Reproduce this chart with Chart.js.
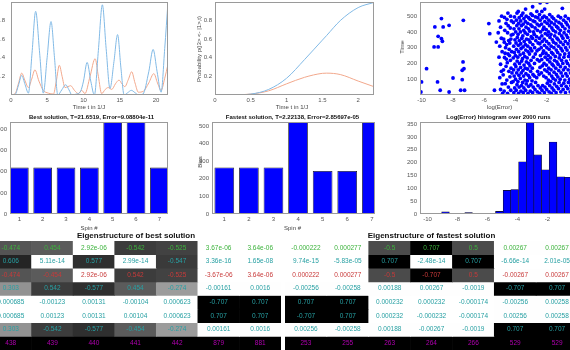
<!DOCTYPE html>
<html>
<head>
<meta charset="utf-8">
<script src="https://cdn.jsdelivr.net/npm/chart.js@4.4.1/dist/chart.umd.min.js"></script>
<style>
body{margin:0;width:570px;height:350px;overflow:hidden;background:#fff;position:relative;font-family:"Liberation Sans",Arial,sans-serif}
canvas{position:absolute}
.lb{position:absolute;white-space:nowrap;color:#444;font-size:6px;transform:translate(-50%,-50%)}
.tt{font-weight:bold;color:#111}
.big{font-size:8px}
.rot{transform:translate(-50%,-50%) rotate(-90deg)}
</style>
</head>
<body>
<script>
// top left: probabilities over the best run
var bestBlueT = [0,0.6,1.05,1.47,1.95,2.4,2.9,3.4,3.95,4.46,4.98,5.52,6.0,6.45,7.0,7.54,8.0,8.4,9.0,9.6,10.0,10.5,11.0,11.5,12.05,12.6,13.12,13.65,14.2,14.7,15.15,15.6,16.1,16.6,17.1,17.6,18.2,19.0,19.6,20.15,20.7,21.2,21.65];
var bestBlueP = [0,0.01,0.11,0.21,0.11,0.02,0.45,0.9,0.45,0.02,0.4,0.79,0.4,0,0.055,0.11,0.055,0,0.01,0.04,0.15,0.35,0.15,0,0.48,0.97,0.5,0.07,0.36,0.65,0.3,0,0.025,0.05,0.025,0,0.01,0.25,0.49,0.25,0.03,0.5,1.0];
var bestOrangeT = [0,0.6,1.05,1.47,1.95,2.4,2.85,3.3,3.85,4.46,5.15,5.85,6.25,6.67,7.05,7.45,7.85,8.23,8.75,9.3,9.75,10.2,10.9,11.6,12.05,12.5,13.0,13.4,13.9,14.4,14.9,15.3,15.7,16.2,16.64,17.1,17.56,18.25,19.0,19.7,20.2,20.7,21.2,21.65];
var bestOrangeP = [0,0.02,0.13,0.235,0.15,0.08,0.17,0.27,0.15,0.05,0.02,0.01,0.15,0.32,0.2,0.08,0.09,0.1,0.05,0.015,0.05,0.015,0.2,0.39,0.2,0.015,0.06,0.08,0.06,0.12,0.16,0.12,0.09,0.17,0.25,0.13,0.03,0.04,0.13,0.23,0.13,0.05,0.18,0.33];

// top middle: probabilities over the fastest run
var fastT = [0,0.25,0.5,0.75,1.0,1.25,1.5,1.56,1.75,2.0,2.22];
var fastBlueP = [0,0.001,0.01,0.06,0.18,0.38,0.59,0.64,0.8,0.94,0.995];
var fastOrangeP = [0,0.001,0.01,0.045,0.12,0.19,0.233,0.235,0.22,0.15,0.09];

// top right: time vs log(error) for every run
var errTime = [
[-8.73,485],[-9.15,432],[-8.62,432],[-8.24,442],[-7.33,474],[-8.94,372],[-8.73,358],[-8.67,341],[-9.2,305],[-8.94,305],
[-9.68,167],[-7.35,210],[-7.29,167],[-7.4,157],[-8.98,83],[-7.99,108],[-7.4,97],[-10,83],[-8.81,30],[-8.24,19],
[-7.5,30],[-7.25,30],[-10.04,19],[-5.7,453],[-5.64,389],[-5.22,336],[-5.34,30],
[-5.05,470],[-4.95,430],[-5.1,395],[-4.9,360],[-5.0,310],[-4.85,275],[-5.05,240],[-4.95,195],[-4.9,150],[-5.0,110],[-4.85,70],[-4.95,35],[-4.82,10],[-4.88,500],
[-4.72,25],[-4.65,72],[-4.78,128],[-4.6,182],[-4.7,238],[-4.63,300],[-4.75,355],[-4.68,410],[-4.6,455],[-4.7,492],[-4.76,160],[-4.66,265],[-4.71,335],
[-4.5,10],[-4.45,50],[-4.55,95],[-4.42,150],[-4.52,205],[-4.47,260],[-4.56,320],[-4.43,345],[-4.5,395],[-4.46,440],[-4.54,480],[-4.48,520],[-4.58,228],[-4.4,290],
[-4.3,30],[-4.25,80],[-4.35,115],[-4.28,170],[-4.32,220],[-4.24,275],[-4.36,330],[-4.27,380],[-4.33,425],[-4.26,470],[-4.31,500],[-4.22,140],[-4.38,250],[-4.29,355],
[-4.1,15],[-4.05,45],[-4.15,85],[-4.08,120],[-4.12,160],[-4.04,195],[-4.14,235],[-4.07,270],[-4.11,310],[-4.03,350],[-4.16,385],[-4.09,420],[-4.13,460],[-4.06,495],
[-3.95,30],[-3.9,65],[-3.99,100],[-3.92,140],[-3.97,180],[-3.89,215],[-4.0,250],[-3.93,290],[-3.96,330],[-3.88,365],[-3.98,400],[-3.91,440],[-3.94,475],[-3.9,520],
[-3.8,10],[-3.76,50],[-3.84,85],[-3.78,125],[-3.82,160],[-3.74,200],[-3.85,240],[-3.79,275],[-3.81,315],[-3.75,345],[-3.83,385],[-3.77,420],[-3.8,455],[-3.76,490],[-3.82,530],
[-3.65,25],[-3.61,60],[-3.69,105],[-3.63,140],[-3.67,175],[-3.6,215],[-3.7,255],[-3.64,295],[-3.66,325],[-3.59,360],[-3.68,400],[-3.62,440],[-3.66,470],[-3.61,505],
[-3.5,15],[-3.46,45],[-3.54,80],[-3.48,120],[-3.52,155],[-3.45,190],[-3.55,230],[-3.49,265],[-3.51,305],[-3.44,340],[-3.53,375],[-3.47,410],[-3.5,450],[-3.46,485],[-3.52,520],
[-3.35,30],[-3.31,70],[-3.39,95],[-3.33,135],[-3.37,170],[-3.3,210],[-3.4,245],[-3.34,285],[-3.36,320],[-3.29,355],[-3.38,395],[-3.32,430],[-3.36,465],[-3.31,500],[-3.35,545],
[-3.2,10],[-3.16,55],[-3.24,90],[-3.18,125],[-3.22,165],[-3.15,200],[-3.25,235],[-3.19,275],[-3.21,310],[-3.14,350],[-3.23,385],[-3.17,420],[-3.21,455],[-3.16,490],
[-3.05,25],[-3.01,65],[-3.09,110],[-3.03,150],[-3.07,185],[-3.0,220],[-3.1,260],[-3.04,295],[-3.06,335],[-2.99,370],[-3.08,405],[-3.02,445],[-3.06,480],[-3.01,515],
[-2.9,15],[-2.86,50],[-2.94,90],[-2.88,130],[-2.92,170],[-2.85,240],[-2.95,280],[-2.89,320],[-2.91,360],[-2.84,400],[-2.93,435],[-2.87,470],[-2.91,505],[-2.9,560],
[-2.75,35],[-2.71,80],[-2.79,120],[-2.73,260],[-2.77,300],[-2.7,345],[-2.8,385],[-2.74,425],[-2.76,465],[-2.72,495],[-2.78,200],
[-2.6,20],[-2.56,60],[-2.64,110],[-2.58,150],[-2.62,280],[-2.55,330],[-2.65,370],[-2.59,410],[-2.61,450],[-2.57,490],[-2.63,530],[-2.6,225],
[-2.45,10],[-2.41,45],[-2.49,130],[-2.43,175],[-2.47,215],[-2.4,250],[-2.5,290],[-2.44,325],[-2.46,360],[-2.39,400],[-2.48,440],[-2.42,475],[-2.46,510],[-2.42,585],
[-2.3,30],[-2.26,60],[-2.34,140],[-2.28,185],[-2.32,225],[-2.25,265],[-2.35,300],[-2.29,340],[-2.31,375],[-2.24,415],[-2.33,450],[-2.27,490],[-2.31,530],
[-2.15,15],[-2.11,50],[-2.19,120],[-2.13,160],[-2.17,200],[-2.1,240],[-2.2,280],[-2.14,315],[-2.16,355],[-2.09,390],[-2.18,430],[-2.12,465],[-2.16,500],[-2.13,545],
[-2.0,35],[-1.96,75],[-2.04,110],[-1.98,150],[-2.02,190],[-1.95,225],[-2.05,265],[-1.99,300],[-2.01,340],[-1.94,380],[-2.03,415],[-1.97,455],[-2.01,490],[-1.98,588],
[-1.85,20],[-1.81,60],[-1.89,95],[-1.83,135],[-1.87,170],[-1.8,210],[-1.9,250],[-1.84,290],[-1.86,325],[-1.79,365],[-1.88,400],[-1.82,440],[-1.86,475],[-1.81,510],
[-1.7,10],[-1.66,45],[-1.74,85],[-1.68,120],[-1.72,160],[-1.65,195],[-1.75,235],[-1.69,270],[-1.71,310],[-1.64,350],[-1.73,385],[-1.67,425],[-1.71,460],[-1.66,495],
[-1.55,30],[-1.51,70],[-1.59,105],[-1.53,145],[-1.57,185],[-1.5,220],[-1.6,260],[-1.54,300],[-1.56,335],[-1.49,375],[-1.58,410],[-1.52,450],[-1.56,485],
[-1.4,15],[-1.36,55],[-1.44,95],[-1.38,130],[-1.42,170],[-1.35,210],[-1.45,245],[-1.39,285],[-1.41,325],[-1.34,360],[-1.43,400],[-1.37,435],[-1.41,470],
[-1.25,40],[-1.21,80],[-1.29,115],[-1.23,155],[-1.27,195],[-1.2,235],[-1.3,270],[-1.24,310],[-1.26,350],[-1.19,390],[-1.28,425],[-1.22,460],[-1.26,500],
[-1.1,20],[-1.06,60],[-1.14,100],[-1.08,140],[-1.12,180],[-1.05,220],[-1.15,255],[-1.09,295],[-1.11,335],[-1.04,375],[-1.13,410],[-1.07,450],[-1.11,490],[-1.0,550],
[-0.95,35],[-0.91,75],[-0.99,120],[-0.93,160],[-0.97,200],[-0.9,240],[-1.0,280],[-0.94,320],[-0.96,360],[-0.89,395],[-0.98,435],[-0.92,475],
[-0.8,15],[-0.76,55],[-0.84,95],[-0.78,135],[-0.82,175],[-0.75,215],[-0.85,260],[-0.79,300],[-0.81,340],[-0.74,380],[-0.83,420],[-0.77,460],[-0.81,500],
[-0.65,40],[-0.61,80],[-0.69,120],[-0.63,160],[-0.67,200],[-0.6,245],[-0.7,285],[-0.64,325],[-0.66,365],[-0.59,405],[-0.68,445],[-0.62,485],
[-0.5,20],[-0.46,60],[-0.54,100],[-0.48,140],[-0.52,185],[-0.45,225],[-0.55,265],[-0.49,305],[-0.51,345],[-0.44,390],[-0.53,430],[-0.47,470]
];

// middle row
var spins = [1,2,3,4,5,6,7];
var bestBias = [440,440,440,440,880,880,440];
var fastBias = [265,265,265,530,245,245,530];
var histCenters = [-9.82,-9.31,-8.80,-8.28,-7.77,-7.26,-6.75,-6.24,-5.72,-5.21,-4.70,-4.19,-3.67,-3.16,-2.65,-2.14,-1.63,-1.11,-0.60,-0.09];
var histCounts = [2,2,8,2,2,6,0,0,1,10,92,95,203,362,230,172,280,145,143,120];

// tick labels
var p1XTicks = [0,5,10,15,20];
var p2XTicks = [0,0.5,1,1.5,2];
var probYTicks = [0.2,0.4,0.6,0.8];
var p3XTicks = [-10,-8,-6,-4,-2];
var p3YTicks = [100,200,300,400,500];
var bestYTicks = [0,200,400,600,800];
var fastYTicks = [0,100,200,300,400,500];
var histYTicks = [0,50,100,150,200,250,300,350];

// eigenvectors (rows) and eigenvalues (last row)
var bestVecs = [
  [-0.474,0.454,2.92e-06,-0.542,-0.525,3.67e-06,3.64e-06],
  [0.606,5.11e-14,0.577,2.99e-14,-0.547,3.36e-16,1.65e-08],
  [-0.474,-0.454,2.92e-06,0.542,-0.525,-3.67e-06,3.64e-06],
  [0.303,0.542,-0.577,0.454,-0.274,-0.00161,0.0016],
  [0.000685,-0.00123,0.00131,-0.00104,0.000623,-0.707,0.707],
  [0.000685,0.00123,0.00131,0.00104,0.000623,0.707,0.707],
  [0.303,-0.542,-0.577,-0.454,-0.274,0.00161,0.0016]
];
var bestEig = [438,439,440,441,442,879,881];
var fastVecs = [
  [-0.000222,0.000277,-0.5,0.707,0.5,0.00267,0.00267],
  [9.74e-15,-5.83e-05,0.707,-2.48e-14,0.707,-6.66e-14,2.01e-05],
  [0.000222,0.000277,-0.5,-0.707,0.5,-0.00267,0.00267],
  [-0.00256,-0.00258,0.00188,0.00267,-0.0019,-0.707,0.707],
  [0.707,0.707,0.000232,0.000232,-0.000174,-0.00256,0.00258],
  [-0.707,0.707,0.000232,-0.000232,-0.000174,0.00256,0.00258],
  [0.00256,-0.00258,0.00188,-0.00267,-0.0019,0.707,0.707]
];
var fastEig = [253,255,263,264,266,529,529];

var rowColors = ['#3cb33c','#27a0a3','#c83a3a','#27a0a3','#27a0a3','#27a0a3','#27a0a3','#b000b0'];

var tickFont = {family:'Liberation Sans', size:6};

var frame = {
  id:'frame',
  afterDraw: function(c) {
    var a = c.chartArea, x = c.ctx;
    x.save();
    x.strokeStyle = '#9a9a9a';
    x.lineWidth = 1;
    x.strokeRect(Math.round(a.left)+0.5, Math.round(a.top)+0.5, Math.round(a.right-a.left)-1, Math.round(a.bottom-a.top)-1);
    x.restore();
  }
};

function axis(min, max, ticks, isX, pad) {
  return {
    type:'linear', min:min, max:max, offset:false,
    grid:{display:false, drawTicks:false}, border:{display:false},
    ticks:{color:'#555', font:tickFont, padding:pad, maxRotation:0, autoSkip:false, callback:function(v){return String(v);}},
    afterBuildTicks: function(s){ s.ticks = ticks.map(function(v){return {value:v};}); },
    afterFit: function(s){
      if (isX) s.height = 14; else s.width = 30;
      s.paddingTop = 0; s.paddingBottom = 0; s.paddingLeft = 0; s.paddingRight = 0;
    }
  };
}

function canvasAt(l, t, w, h) {
  var c = document.createElement('canvas');
  c.width = w; c.height = h;
  c.style.left = l+'px'; c.style.top = t+'px';
  c.style.width = w+'px'; c.style.height = h+'px';
  document.body.appendChild(c);
  return c;
}

// area = [left, top, right, bottom] of the plot box on the page
function plot(area, type, datasets, xAxis, yAxis) {
  var w = area[2]-area[0]+32, h = area[3]-area[1]+16;
  var c = canvasAt(area[0]-30, area[1]-2, w, h);
  return new Chart(c.getContext('2d'), {
    type: type,
    data: {datasets: datasets},
    options: {
      responsive:false, animation:false,
      layout:{autoPadding:false, padding:{top:2, right:2, left:0, bottom:0}},
      plugins:{legend:{display:false}, tooltip:{enabled:false}},
      scales:{x:xAxis, y:yAxis}
    },
    plugins:[frame]
  });
}

function pts(xs, ys) { return xs.map(function(x,i){ return {x:x, y:ys[i]}; }); }

function line(xs, ys, color) {
  return {data:pts(xs, ys), borderColor:color, borderWidth:1, pointRadius:0, fill:false, cubicInterpolationMode:'monotone'};
}

var blue = '#82bae6', orange = '#f2a88c';

plot([11,2,168,95], 'line',
  [line(bestBlueT, bestBlueP, blue), line(bestOrangeT, bestOrangeP, orange)],
  axis(0, 21.6519, p1XTicks, true, 2), axis(0, 1, probYTicks, false, 6));

plot([215,2,374,95], 'line',
  [line(fastT, fastBlueP, blue), line(fastT, fastOrangeP, orange)],
  axis(0, 2.22138, p2XTicks, true, 2), axis(0, 1, probYTicks, false, 3));

plot([420,2,578,95], 'scatter',
  [{data:errTime.map(function(p){return {x:p[0], y:p[1]};}), backgroundColor:'#0000ff', borderWidth:0, pointRadius:1.9}],
  axis(-10.1, 0, p3XTicks, true, 2), axis(0, 590, p3YTicks, false, 3));

function bars(vals) {
  return {data:pts(spins, vals), backgroundColor:'#0000ff', borderColor:'#1a1a1a', borderWidth:0.8, barPercentage:0.8, categoryPercentage:1};
}

plot([10,122,168,214], 'bar', [bars(bestBias)],
  axis(0.6, 7.37, spins, true, 2), axis(0, 872, bestYTicks, false, 3));

plot([212,122,375,214], 'bar', [bars(fastBias)],
  axis(0.5, 7.13, spins, true, 2), axis(0, 523, fastYTicks, false, 3));

plot([420,122,585,214], 'bar',
  [{data:pts(histCenters, histCounts), backgroundColor:'#0000ff', borderColor:'#111', borderWidth:0.6, barPercentage:1, categoryPercentage:1}],
  axis(-10.5, 0.5, p3XTicks, true, 2), axis(0, 358, histYTicks, false, 3));

// eigenstructure tables
function g3(v) {
  if (v === 0) return '0';
  var e = Math.floor(Math.log10(Math.abs(v)));
  if (e < -4) {
    var m = String(parseFloat((v/Math.pow(10, e)).toPrecision(3)));
    return m + 'e-' + String(-e).padStart(2, '0');
  }
  return String(parseFloat(v.toPrecision(3)));
}

function shade(v) {
  var g = Math.round(255*Math.max(0, 1-Math.abs(v)/0.707));
  return 'rgb('+g+','+g+','+g+')';
}

var cellText = {
  id:'cellText',
  afterDatasetsDraw: function(chart) {
    var ctx = chart.ctx;
    ctx.save();
    ctx.font = '6.5px "Liberation Sans"';
    ctx.textAlign = 'center';
    ctx.textBaseline = 'middle';
    chart.data.datasets.forEach(function(ds, r) {
      chart.getDatasetMeta(r).data.forEach(function(el, c) {
        ctx.fillStyle = ds.textColor;
        ctx.fillText(g3(ds.values[c]), el.x, (el.y+el.base)/2);
      });
    });
    ctx.restore();
  }
};

function table(l, t, w, h, vecs, eig) {
  var rows = vecs.concat([eig]);
  var c = canvasAt(l, t, w, h);
  new Chart(c.getContext('2d'), {
    type:'bar',
    data:{
      labels: spins,
      datasets: rows.map(function(row, r) {
        return {
          data: row.map(function(){ return [r, r+1]; }),
          values: row,
          textColor: rowColors[r],
          backgroundColor: row.map(function(v){ return r === rows.length-1 ? '#000' : shade(v); }),
          borderWidth:0, barPercentage:1, categoryPercentage:1, grouped:false
        };
      })
    },
    options:{
      responsive:false, animation:false,
      layout:{autoPadding:false, padding:0},
      plugins:{legend:{display:false}, tooltip:{enabled:false}},
      scales:{x:{display:false}, y:{display:false, min:0, max:rows.length, reverse:true}}
    },
    plugins:[cellText]
  });
}

table(-10, 241, 291, 109, bestVecs, bestEig);
table(285, 241, 293, 109, fastVecs, fastEig);

// titles and axis labels
function label(text, x, y, cls) {
  var d = document.createElement('div');
  d.className = 'lb ' + (cls || '');
  d.textContent = text;
  d.style.left = x+'px'; d.style.top = y+'px';
  document.body.appendChild(d);
}
label('Time t in 1/J', 89, 107);
label('Time t in 1/J', 292, 107);
label('log(Error)', 499.5, 107);
label('Probability p(|3> <- |1>,t)', 198.5, 48.5, 'rot');
label('Time', 402, 47, 'rot');
label('Best solution, T=21.6519, Error=9.08804e-11', 91.5, 116.5, 'tt');
label('Fastest solution, T=2.22138, Error=2.85697e-05', 292.5, 116.5, 'tt');
label('Log(Error) histogram over 2000 runs', 498.5, 116.5, 'tt');
label('Spin #', 89, 227.5);
label('Spin #', 292.5, 227.5);
label('Bias', 200, 162, 'rot');
label('Eigenstructure of best solution', 136, 235, 'tt big');
label('Eigenstructure of fastest solution', 431.5, 235, 'tt big');
</script>
</body>
</html>
